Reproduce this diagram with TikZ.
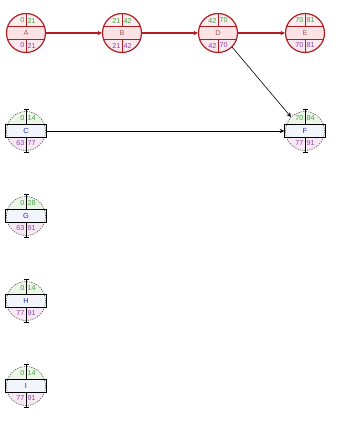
\documentclass[tikz,border=0pt]{standalone}
\usepackage{fontspec}
\setmainfont{Liberation Sans}
\usetikzlibrary{arrows.meta}
\definecolor{critred}{RGB}{175,30,35}
\definecolor{crittop}{RGB}{252,238,238}
\definecolor{critmid}{RGB}{251,226,228}
\definecolor{critbot}{RGB}{250,232,238}
\definecolor{normtop}{RGB}{236,246,230}
\definecolor{normmid}{RGB}{242,246,252}
\definecolor{normbot}{RGB}{248,232,244}
\definecolor{numgreen}{RGB}{70,160,70}
\definecolor{numpurple}{RGB}{140,70,170}
\definecolor{namegray}{RGB}{160,95,95}
\definecolor{nameblue}{RGB}{40,40,200}
\tikzset{
  critcirc/.style={circle,minimum size=39pt,inner sep=0pt,draw=critred,line width=1.2pt},
  normcirc/.style={circle,minimum size=39pt,inner sep=0pt,draw=gray!60!black,line width=0.6pt,dash pattern=on 1.2pt off 1.2pt},
  critline/.style={draw=critred,line width=0.9pt},
  normline/.style={draw=black,line width=0.7pt},
  numtext/.style={inner sep=0.4pt,font=\fontsize{7.2}{7.5}\selectfont},
  estext/.style={numtext,text=numgreen},
  lstext/.style={numtext,text=numpurple},
  critname/.style={inner sep=0.4pt,font=\fontsize{7.4}{7.5}\selectfont,text=namegray},
  normname/.style={inner sep=0.4pt,font=\fontsize{7.4}{7.5}\selectfont,text=nameblue},
  critarrow/.style={draw=critred,line width=1.3pt,-{Stealth[length=4.5pt,width=4.5pt]}},
  normarrow/.style={draw=black,line width=0.6pt,-{Stealth[length=4.5pt,width=4.5pt]}}
}
% #1 crit/norm, #2 name, #3 x, #4 y, #5 label, #6 ES, #7 EF, #8 LS, #9 LF
\newcommand\pertnode[9]{%
  \begin{scope}
    \clip (#3,#4) circle[radius=19.5];
    \fill[#1top] (#3-21,#4-21) rectangle (#3+21,#4-6.5);
    \fill[#1mid] (#3-21,#4-6.5) rectangle (#3+21,#4+6.5);
    \fill[#1bot] (#3-21,#4+6.5) rectangle (#3+21,#4+21);
  \end{scope}
  \node[#1circ] (#2) at (#3,#4) {};
  \node[#1name] (#2lbl) at (#3,#4) {#5};
  \node[estext,anchor=east] (#2es) at (#3-1,#4-12.5) {#6};
  \node[estext,anchor=west] (#2ef) at (#3+1,#4-12.5) {#7};
  \node[lstext,anchor=east] (#2ls) at (#3-1,#4+12.5) {#8};
  \node[lstext,anchor=west] (#2lf) at (#3+1,#4+12.5) {#9};
}
\newcommand\critlines[2]{%
  \draw[critline] (#1-18.4,#2-6.5) -- (#1+18.4,#2-6.5);
  \draw[critline] (#1-18.4,#2+6.5) -- (#1+18.4,#2+6.5);
  \draw[critline] (#1,#2-19.5) -- (#1,#2-6.5);
  \draw[critline] (#1,#2+6.5) -- (#1,#2+19.5);
}
\newcommand\normlines[2]{%
  \draw[normline] (#1-20.5,#2-6.5) rectangle (#1+20.5,#2+6.5);
  \draw[normline] (#1,#2-21.5) -- (#1,#2-6.5);
  \draw[normline] (#1,#2+6.5) -- (#1,#2+21.5);
  \draw[normline] (#1-2.5,#2-21.5) -- (#1+2.5,#2-21.5);
  \draw[normline] (#1-2.5,#2+21.5) -- (#1+2.5,#2+21.5);
}
\begin{document}
\begin{tikzpicture}[x=1pt,y=-1pt]
\useasboundingbox[fill=white] (0,0) rectangle (341,438);
% critical row
\pertnode{crit}{A}{26}{33}{A}{0}{21}{0}{21}\critlines{26}{33}
\pertnode{crit}{B}{122}{33}{B}{21}{42}{21}{42}\critlines{122}{33}
\pertnode{crit}{D}{218}{33}{D}{42}{70}{42}{70}\critlines{218}{33}
\pertnode{crit}{E}{305}{33}{E}{70}{81}{70}{81}\critlines{305}{33}
% other nodes
\pertnode{norm}{C}{26}{131}{C}{0}{14}{63}{77}\normlines{26}{131}
\pertnode{norm}{F}{305}{131}{F}{70}{84}{77}{91}\normlines{305}{131}
\pertnode{norm}{G}{26}{216}{G}{0}{28}{63}{91}\normlines{26}{216}
\pertnode{norm}{H}{26}{301}{H}{0}{14}{77}{91}\normlines{26}{301}
\pertnode{norm}{I}{26}{386}{I}{0}{14}{77}{91}\normlines{26}{386}
% connectors
\draw[critarrow] (A.east) -- (B.west);
\draw[critarrow] (B.east) -- (D.west);
\draw[critarrow] (D.east) -- (E.west);
\draw[normarrow] (D.-45) -- (F.135);
\draw[normarrow] ([xshift=1pt]C.east) -- ([xshift=-1pt]F.west);
\end{tikzpicture}
\end{document}
